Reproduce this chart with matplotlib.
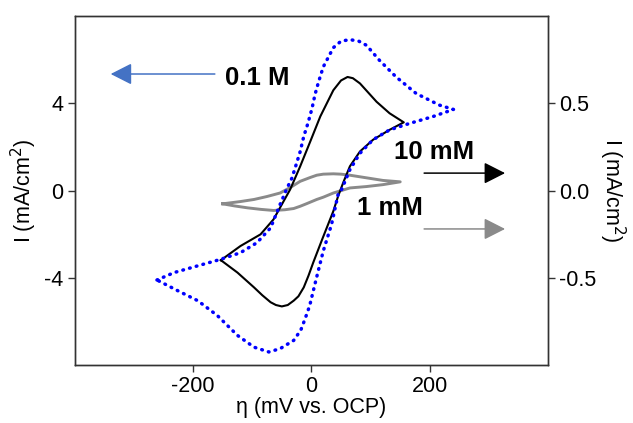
import matplotlib
matplotlib.use("Agg")
import matplotlib.pyplot as plt

plt.rcParams['font.family'] = ['Liberation Sans', 'DejaVu Sans']

# 0.1 M (left axis, mA/cm2)
eta_01M = [-261, -232, -192, -153, -120, -92, -69, -53, -41, -33, -25, -19, -13, -6, 1, 6, 12, 20, 37, 50, 65, 80, 93, 115, 143, 177, 216, 240,
           205, 166, 132, 104, 82, 65, 51, 45, 34, 20, 8, -3, -11, -18, -30, -53, -72, -97, -125, -159, -192, -226, -261]
i_01M = [-4.10, -3.76, -3.45, -3.15, -2.85, -2.39, -1.71, -0.64, 0.12, 0.57, 1.26, 1.79, 2.48, 3.08, 3.77, 4.40, 4.98, 5.67, 6.55, 6.85, 6.92, 6.85, 6.66, 5.97, 5.21, 4.45, 3.92, 3.72,
         3.39, 3.08, 2.78, 2.33, 1.71, 0.96, 0.05, -0.18, -1.55, -2.77, -4.06, -5.28, -5.90, -6.40, -6.87, -7.25, -7.40, -7.18, -6.64, -5.73, -5.05, -4.59, -4.10]

# 10 mM (right axis, mA/cm2)
eta_10mM = [-153, -120, -86, -64, -47, -36, -19, -2, 15, 37, 50, 61, 70, 82, 110, 132, 156,
            132, 104, 82, 65, 54, 45, 37, 18, 3, -5, -13, -22, -30, -40, -50, -60, -69, -83, -97, -125, -153]
i_10mM = [-0.399, -0.318, -0.251, -0.165, -0.061, 0.006, 0.139, 0.281, 0.425, 0.575, 0.631, 0.651, 0.644, 0.614, 0.509, 0.443, 0.391,
          0.348, 0.291, 0.224, 0.139, 0.048, -0.033, -0.118, -0.281, -0.413, -0.488, -0.555, -0.606, -0.631, -0.656, -0.664, -0.656, -0.640, -0.600, -0.555, -0.470, -0.399]

# 1 mM (right axis, mA/cm2)
eta_1mM = [-150, -120, -97, -75, -53, -35, -19, -2, 9, 20, 37, 50, 65, 93, 121, 150,
           121, 93, 65, 37, 20, 9, -8, -19, -30, -45, -64, -85, -108, -130, -150]
i_1mM = [-0.076, -0.063, -0.051, -0.034, -0.014, 0.019, 0.053, 0.075, 0.088, 0.094, 0.096, 0.094, 0.088, 0.073, 0.058, 0.050,
         0.034, 0.023, 0.015, -0.014, -0.038, -0.051, -0.075, -0.090, -0.103, -0.110, -0.114, -0.108, -0.099, -0.088, -0.076]

xticks = [-200, 0, 200]
xticklabels = ["-200", "0", "200"]
lticks = [-4, 0, 4]
lticklabels = ["-4", "0", "4"]
rticks = [-0.5, 0.0, 0.5]
rticklabels = ["-0.5", "0.0", "0.5"]

fig = plt.figure(figsize=(6.33, 4.23), dpi=100)
ax = fig.add_axes([0.118, 0.137, 0.748, 0.825])
ax2 = ax.twinx()

ax2.plot(eta_1mM, i_1mM, color='#8a8a8a', lw=2.1, solid_joinstyle='round')
ax2.plot(eta_10mM, i_10mM, color='black', lw=1.5, solid_joinstyle='round')
ax.plot(eta_01M, i_01M, color='#0000ff', lw=2.5, linestyle=(0, (0.2, 1.8)), dash_capstyle='round')

ax.set_zorder(ax2.get_zorder() + 1)
ax.patch.set_visible(False)

ax.set_xlim(-400, 400)
ax.set_ylim(-8, 8)
ax2.set_ylim(-1, 1)

fs = 15.5
ax.set_xticks(xticks)
ax.set_xticklabels(xticklabels, fontsize=fs)
ax.set_yticks(lticks)
ax.set_yticklabels(lticklabels, fontsize=fs)
ax2.set_yticks(rticks)
ax2.set_yticklabels(rticklabels, fontsize=fs)

for a in (ax, ax2):
    a.tick_params(direction='out', length=5, width=1, color='#333333', pad=3)
    for s in a.spines.values():
        s.set_color('#333333')
        s.set_linewidth(1)

ax.set_xlabel("η (mV vs. OCP)", fontsize=fs, labelpad=0)
ax.set_ylabel("I (mA/cm$^2$)", fontsize=fs, labelpad=4)
ax2.set_ylabel("I (mA/cm$^2$)", fontsize=fs, rotation=270, labelpad=22)

def arrow(x0, x1, y, color):
    ax.annotate("", xy=(x1, y), xytext=(x0, y), xycoords='axes fraction', textcoords='axes fraction',
                arrowprops=dict(arrowstyle='-|>,head_length=0.65,head_width=0.33', color=color,
                                lw=1.1, mutation_scale=20, shrinkA=0, shrinkB=0))

arrow(0.296, 0.076, 0.834, '#4472c4')
arrow(0.738, 0.909, 0.550, 'black')
arrow(0.738, 0.909, 0.390, '#8a8a8a')

fa = 18.5
ax.text(0.317, 0.822, "0.1 M", transform=ax.transAxes, fontsize=fa, fontweight='bold', va='center', ha='left')
ax.text(0.674, 0.610, "10 mM", transform=ax.transAxes, fontsize=fa, fontweight='bold', va='center', ha='left')
ax.text(0.596, 0.450, "1 mM", transform=ax.transAxes, fontsize=fa, fontweight='bold', va='center', ha='left')

fig.savefig("out.png", dpi=100)
